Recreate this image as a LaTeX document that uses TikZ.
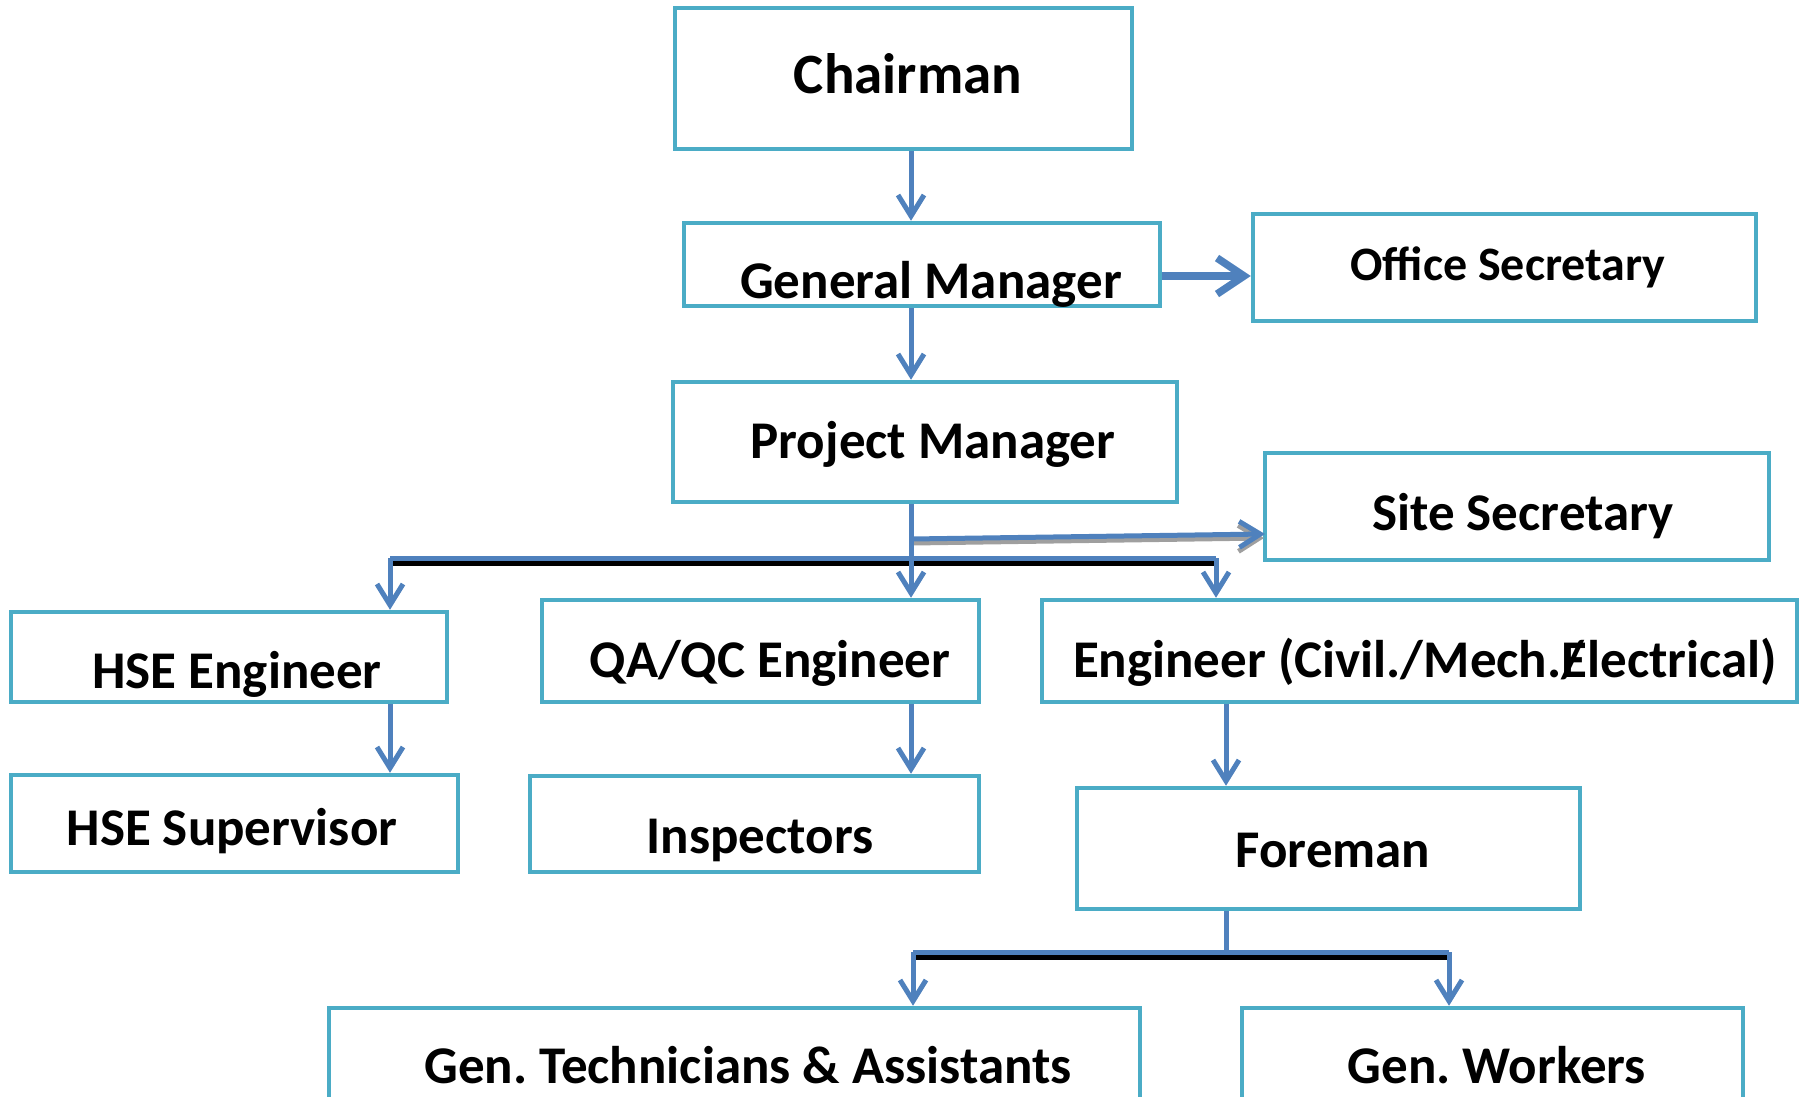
\documentclass[tikz,border=0pt]{standalone}
\usepackage{fontspec}
\setmainfont{Carlito}
\usetikzlibrary{arrows.meta}
\definecolor{boxc}{HTML}{4BACC6}
\definecolor{conc}{HTML}{4F81BD}
\begin{document}
\frenchspacing
\begin{tikzpicture}[x=1pt,y=-1pt,
  box/.style={draw=boxc, line width=4.5pt, inner sep=0pt, fill=white},
  lbl/.style={anchor=base, inner sep=0pt, font=\fontsize{53}{60}\selectfont\bfseries},
  conn/.style={draw=conc, line width=5pt, -{Straight Barb[length=21pt,width=26pt]},
    preaction={draw=gray!70, -{Straight Barb[length=21pt,width=26pt]}, transform canvas={xshift=1pt,yshift=-2pt}}},
  bigconn/.style={draw=conc, line width=7.5pt, -{Straight Barb[length=27pt,width=36pt]}},
  shadowconn/.style={draw=gray!75, line width=5pt, -{Straight Barb[length=21pt,width=26pt]}},
  barline/.style={draw=conc, line width=5pt},
  blackline/.style={draw=black, line width=5pt}]
\useasboundingbox (0,0) rectangle (1802,1096);
\clip (0,0) rectangle (1802,1096);

% boxes
\node[box, minimum width=457pt, minimum height=141pt] (chair) at (903.5,78.5) {};
\node[box, minimum width=476pt, minimum height=83pt] (gm) at (922,264.5) {};
\node[box, minimum width=503pt, minimum height=107pt] (office) at (1504.5,267.5) {};
\node[box, minimum width=504pt, minimum height=120pt] (pm) at (925,442) {};
\node[box, minimum width=504pt, minimum height=107pt] (site) at (1517,506.5) {};
\node[box, minimum width=436pt, minimum height=90pt] (hse) at (229,657) {};
\node[box, minimum width=447pt, minimum height=97pt] (hsesup) at (234.5,823.5) {};
\node[box, minimum width=437pt, minimum height=102pt] (qa) at (760.5,651) {};
\node[box, minimum width=755pt, minimum height=102pt] (eng) at (1419.5,651) {};
\node[box, minimum width=449pt, minimum height=96pt] (insp) at (754.5,824) {};
\node[box, minimum width=503pt, minimum height=121pt] (fore) at (1328.5,848.5) {};
\node[box, minimum width=811pt, minimum height=122pt] (tech) at (734.5,1069) {};
\node[box, minimum width=501pt, minimum height=122pt] (work) at (1492.5,1069) {};

% texts
\node[lbl, font=\fontsize{57}{64}\selectfont\bfseries] (t1) at (908,93) {Chairman};
\node[lbl] (t2) at (931,298) {General Manager};
\node[lbl, font=\fontsize{48}{56}\selectfont\bfseries] (t3) at (1508,280) {Office Secretary};
\node[lbl] (t4) at (933,458) {Project Manager};
\node[lbl] (t5) at (1523,530) {Site Secretary};
\node[lbl] (t6) at (237,688) {HSE Engineer};
\node[lbl] (t7) at (232,845) {HSE Supervisor};
\node[lbl] (t8) at (770,677) {QA/QC Engineer};
\node[lbl] (t9) at (1425,677) {Engineer (Civil./Mech.\rlap{/}Electrical)};
\node[lbl] (t10) at (760,853) {Inspectors};
\node[lbl] (t11) at (1333,867) {Foreman};
\node[lbl] (t12) at (748,1083) {Gen. Technicians \& Assistants};
\node[lbl] (t13) at (1497,1083) {Gen. Workers};

% helper coordinates
\coordinate (xa) at (911,0);
\coordinate (xl) at (390,0);
\coordinate (xr) at (1216,0);
\coordinate (xe) at (1226,0);
\coordinate (xb1) at (913,0);
\coordinate (xb2) at (1449,0);
\coordinate (yo) at (0,276);
\coordinate (ybar) at (0,558);
\coordinate (ybk) at (0,563);
\coordinate (yfb) at (0,952);
\coordinate (yfk) at (0,957);
\coordinate (s1) at (911,539);
\coordinate (s2) at (1265,534);
\coordinate (s1sh) at (912,543);
\coordinate (s2sh) at (1264,538);

% connectors
\draw[conn] (chair.south -| xa) -- (gm.north -| xa);
\draw[bigconn] (gm.east |- yo) -- (office.west |- yo);
\draw[conn] (gm.south -| xa) -- (pm.north -| xa);
\draw[shadowconn] (s1sh) -- (s2sh);
\draw[draw=conc, line width=5pt, -{Straight Barb[length=21pt,width=26pt]}] (s1) -- (s2);
\draw[blackline] (xl |- ybk) -- (xr |- ybk);
\draw[barline] (xl |- ybar) -- (xr |- ybar);
\draw[conn] (pm.south -| xa) -- (qa.north -| xa);
\draw[conn] (xl |- ybar) -- (hse.north -| xl);
\draw[conn] (xr |- ybar) -- (eng.north -| xr);
\draw[conn] (hse.south -| xl) -- (hsesup.north -| xl);
\draw[conn] (qa.south -| xa) -- (insp.north -| xa);
\draw[conn] (eng.south -| xe) -- (fore.north -| xe);
\draw[blackline] (xb1 |- yfk) -- (xb2 |- yfk);
\draw[barline] (xb1 |- yfb) -- (xb2 |- yfb);
\draw[barline] (fore.south -| xe) -- (xe |- yfb);
\draw[conn] (xb1 |- yfb) -- (tech.north -| xb1);
\draw[conn] (xb2 |- yfb) -- (work.north -| xb2);
\end{tikzpicture}
\end{document}
